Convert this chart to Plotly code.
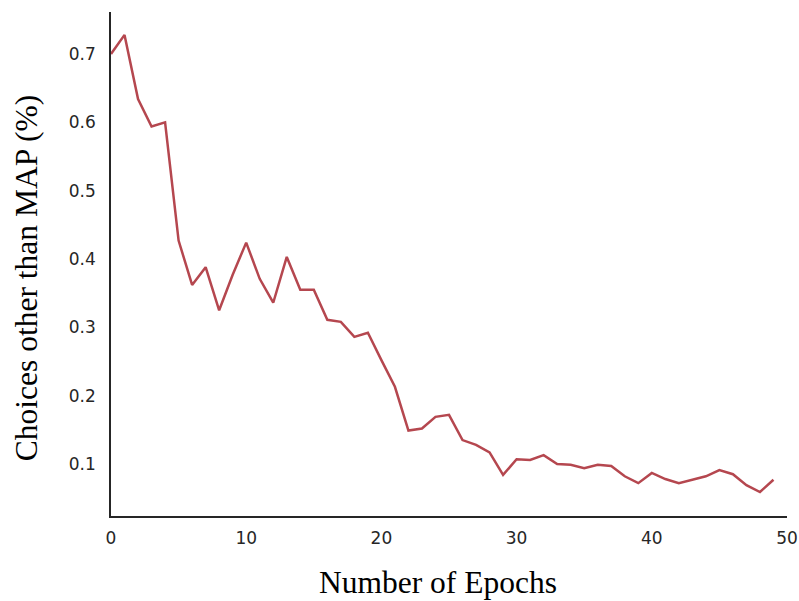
import plotly.graph_objects as go

epochs = list(range(50))
choices = [0.700, 0.728, 0.634, 0.594, 0.600, 0.427, 0.362, 0.388, 0.325, 0.377,
           0.424, 0.371, 0.336, 0.403, 0.355, 0.355, 0.311, 0.308, 0.286, 0.292,
           0.252, 0.213, 0.149, 0.152, 0.169, 0.172, 0.135, 0.128, 0.117, 0.084,
           0.107, 0.106, 0.113, 0.100, 0.099, 0.094, 0.099, 0.097, 0.082, 0.072,
           0.087, 0.078, 0.072, 0.077, 0.082, 0.091, 0.085, 0.069, 0.059, 0.077]
x_ticks = [0, 10, 20, 30, 40, 50]
y_ticks = [0.1, 0.2, 0.3, 0.4, 0.5, 0.6, 0.7]
x_title = "Number of Epochs"
y_title = "Choices other than MAP (%)"

fig = go.Figure()
fig.add_trace(go.Scatter(x=epochs, y=choices, mode="lines",
                         line=dict(color="#b5474f", width=2.5), showlegend=False))

title_font = dict(family="Liberation Serif", size=31.5, color="black")
fig.update_layout(
    width=799, height=601,
    margin=dict(l=111, r=12, t=12, b=85),
    plot_bgcolor="white", paper_bgcolor="white",
    font=dict(family="DejaVu Sans", size=17, color="#262626"),
    annotations=[
        dict(text=x_title, xref="paper", yref="paper", x=0.4837, y=-0.131,
             xanchor="center", yanchor="middle", showarrow=False, font=title_font),
        dict(text=y_title, xref="paper", yref="paper", x=-0.1257, y=0.472,
             xanchor="center", yanchor="middle", showarrow=False, textangle=-90,
             font=title_font),
    ],
)
fig.update_xaxes(
    range=[0, 50], tickvals=x_ticks, showgrid=False, zeroline=False, automargin=False,
    showline=True, linecolor="#262626", linewidth=1.5,
    ticks="outside", ticklen=6, tickcolor="rgba(0,0,0,0)",
    tickfont=dict(family="DejaVu Sans", size=17, color="#262626"),
)
fig.update_yaxes(
    range=[0.0239, 0.7615], tickvals=y_ticks, tickformat=".1f", showgrid=False, zeroline=False,
    automargin=False,
    showline=True, linecolor="#262626", linewidth=1.5,
    ticks="outside", ticklen=10, tickcolor="rgba(0,0,0,0)",
    tickfont=dict(family="DejaVu Sans", size=17, color="#262626"),
)

fig.write_html("out.html", config={"displayModeBar": False},
               post_script="document.body.style.margin='0';document.body.style.overflow='hidden';")
